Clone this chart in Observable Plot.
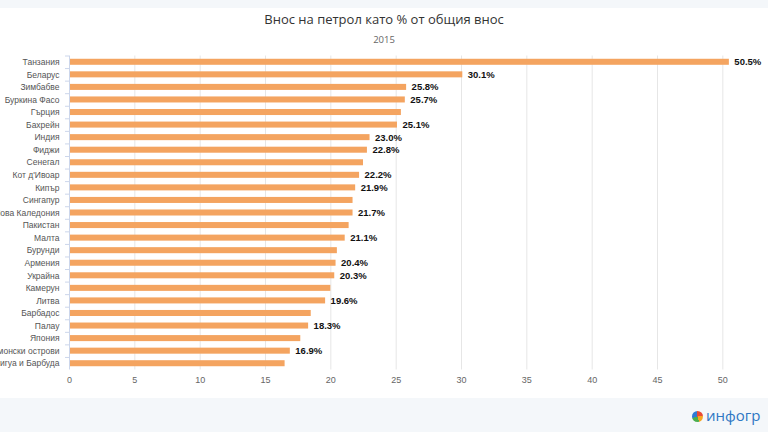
<!DOCTYPE html>
<html><head><meta charset="utf-8">
<script src="https://cdn.jsdelivr.net/npm/d3@7"></script>
<script src="https://cdn.jsdelivr.net/npm/@observablehq/plot@0.6"></script>
<style>
body{margin:0;width:768px;height:432px;overflow:hidden;background:#fff;position:relative;font-family:"Open Sans",sans-serif}
#top{position:absolute;left:0;top:0;width:768px;height:8px;background:#f4f7fa}
#foot{position:absolute;left:0;top:398px;width:768px;height:34px;background:#f4f7fa}
#title{position:absolute;left:0;top:10px;width:768px;text-align:center;font-size:13px;color:#333;line-height:18px}
#subtitle{position:absolute;left:0;top:33px;width:768px;text-align:center;font-size:9.5px;color:#666;line-height:14px}
#chart{position:absolute;left:0;top:0}
#logo{position:absolute;left:692px;top:406px;white-space:nowrap;font-size:15px;color:#2f78c4;line-height:18px}
#logo .dot{display:inline-block;width:11px;height:11px;border-radius:50%;vertical-align:-1px;margin-right:3px;
background:conic-gradient(#e94b35 0 25%,#f6a623 25% 45%,#4cae4f 45% 70%,#2e7bd6 70% 100%)}
</style></head>
<body>
<div id="top"></div>
<div id="foot"></div>
<div id="title">Внос на петрол като % от общия внос</div>
<div id="subtitle">2015</div>
<div id="chart"></div>
<div id="logo"><span class="dot"></span>инфогр</div>
<script>
const countries = ["Танзания","Беларус","Зимбабве","Буркина Фасо","Гърция","Бахрейн","Индия","Фиджи","Сенегал","Кот д'Ивоар","Кипър","Сингапур","Нова Каледония","Пакистан","Малта","Бурунди","Армения","Украйна","Камерун","Литва","Барбадос","Палау","Япония","Соломонски острови","Антигуа и Барбуда"];
const values = [50.5,30.1,25.8,25.7,25.4,25.1,23.0,22.8,22.5,22.2,21.9,21.7,21.7,21.4,21.1,20.5,20.4,20.3,20.0,19.6,18.5,18.3,17.7,16.9,16.5];
const labeled = ["Танзания","Беларус","Зимбабве","Буркина Фасо","Бахрейн","Индия","Фиджи","Кот д'Ивоар","Кипър","Нова Каледония","Малта","Армения","Украйна","Литва","Палау","Соломонски острови"];
const xTicks = [0,5,10,15,20,25,30,35,40,45,50];

const data = countries.map((c,i)=>({country:c, value:values[i], label: labeled.includes(c) ? values[i].toFixed(1)+"%" : ""}));

const chart = Plot.plot({
  width:768, height:398,
  marginTop:55.5, marginBottom:28.5, marginLeft:69, marginRight:13,
  style:{fontFamily:"'Liberation Sans', Arial, sans-serif", background:"transparent", overflow:"visible"},
  x:{domain:[0,52.5]},
  y:{domain:countries, paddingInner:0.52, paddingOuter:0.26, round:false},
  marks:[
    Plot.gridX(xTicks.filter(t=>t>0), {stroke:"#e6e6e6", strokeOpacity:1}),
    Plot.barX(data, {x:"value", y:"country", fill:"#f4a460"}),
    Plot.text(data, {x:"value", y:"country", text:"label", textAnchor:"start", dx:5, fontWeight:"bold", fontSize:9.5, fill:"#111"}),
    Plot.axisX({ticks:xTicks, tickSize:0, tickPadding:7, fontSize:9, fill:"#666", label:null}),
    Plot.axisY({tickSize:0, tickPadding:10, fontSize:8.5, fill:"#555", label:null}),
    Plot.axisY({text:null, tickSize:4, stroke:"#ccd6eb", strokeOpacity:1, dy:-6.27, label:null}),
    Plot.ruleX([0], {stroke:"#ccd6eb"})
  ]
});
document.getElementById("chart").appendChild(chart);
</script>
</body></html>
